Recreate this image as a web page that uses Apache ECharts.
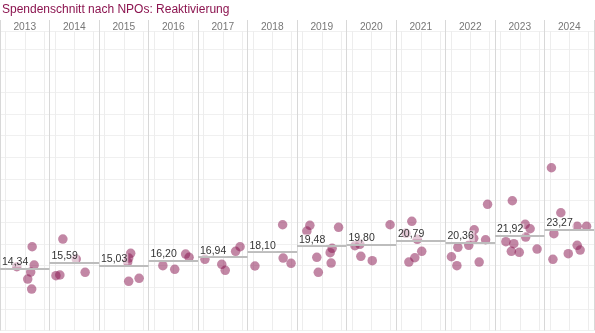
<!DOCTYPE html>
<html>
<head>
<meta charset="utf-8">
<style>
  html, body { margin: 0; padding: 0; background: #fff; }
  #chart { width: 595px; height: 333px; }
</style>
<script src="https://cdn.jsdelivr.net/npm/echarts@6/dist/echarts.min.js"></script>
</head>
<body>
<div id="chart"></div>
<script>
// Years shown as columns
const years = ['2013','2014','2015','2016','2017','2018','2019','2020','2021','2022','2023','2024'];

// Average donation per year (reference line in each column)
const averages = [14.34, 15.59, 15.03, 16.20, 16.94, 18.10, 19.48, 19.80, 20.79, 20.36, 21.92, 23.27];

// Average donation per NPO, one list per year
const npoValues = [
  [19.35, 15.13, 14.73, 13.51, 11.89, 9.58],
  [21.13, 16.51, 12.66, 12.82, 13.44],
  [17.83, 16.74, 15.82, 11.36, 12.06],
  [17.67, 16.91, 14.97, 14.13],
  [16.44, 15.29, 13.90, 18.29, 19.35],
  [24.43, 16.74, 15.52, 14.90],
  [24.30, 22.98, 23.83, 18.98, 17.97, 16.91, 15.59, 13.44],
  [19.58, 19.91, 17.14, 16.12, 24.43],
  [25.22, 22.45, 21.06, 18.29, 16.81, 15.82],
  [29.15, 23.28, 21.29, 20.97, 19.68, 19.21, 17.04, 14.97, 15.82],
  [29.98, 24.53, 23.51, 21.59, 20.51, 20.05, 18.29, 18.06, 18.82],
  [37.60, 27.21, 24.06, 24.06, 22.36, 19.68, 18.59, 17.74, 16.44]
];

// Horizontal jitter slot of each NPO inside its year column (0..1)
const npoSlots = [
  [0.65, 0.69, 0.34, 0.62, 0.56, 0.64],
  [0.27, 0.54, 0.13, 0.21, 0.72],
  [0.64, 0.60, 0.58, 0.60, 0.81],
  [0.75, 0.82, 0.29, 0.53],
  [0.14, 0.48, 0.55, 0.76, 0.85],
  [0.71, 0.72, 0.88, 0.15],
  [0.26, 0.20, 0.84, 0.71, 0.67, 0.40, 0.69, 0.43],
  [0.17, 0.27, 0.29, 0.52, 0.88],
  [0.32, 0.20, 0.43, 0.52, 0.38, 0.26],
  [0.85, 0.58, 0.57, 0.81, 0.47, 0.25, 0.12, 0.23, 0.68],
  [0.35, 0.61, 0.71, 0.62, 0.22, 0.38, 0.33, 0.49, 0.85],
  [0.14, 0.33, 0.66, 0.85, 0.19, 0.66, 0.72, 0.48, 0.17]
];

// Sub-axis guide positions inside each column
const slotGuides = [0.11, 0.5, 0.89];

const FONT = '"Liberation Sans", Arial, Helvetica, sans-serif';
const fmtDe = v => v.toFixed(2).replace('.', ',');

const points = [];
npoValues.forEach((vals, i) => {
  vals.forEach((v, j) => points.push([i + npoSlots[i][j], v]));
});

const guideLines = [];
years.forEach((y, i) => slotGuides.forEach(s => guideLines.push({ xAxis: i + s })));

const avgLines = averages.map((a, i) => [
  { coord: [i, a], value: a },
  { coord: [i + 1, a], value: a }
]);

const chart = echarts.init(document.getElementById('chart'), null, { renderer: 'canvas' });
chart.setOption({
  animation: false,
  backgroundColor: '#ffffff',
  textStyle: { fontFamily: FONT },
  title: {
    text: 'Spendenschnitt nach NPOs: Reaktivierung',
    left: 2, top: 4, padding: 0,
    textStyle: { fontSize: 12, fontWeight: 'normal', color: '#8c1550', fontFamily: FONT }
  },
  grid: [
    { left: 0, right: 1, top: 31, bottom: 2.5 },
    { left: 0, right: 1, top: 20, height: 12 }
  ],
  xAxis: [
    {
      type: 'value', gridIndex: 0, min: 0, max: 12, interval: 1,
      axisLine: { show: false }, axisTick: { show: false }, axisLabel: { show: false },
      splitLine: { show: true, lineStyle: { color: '#d8d8d8', width: 1 } }
    },
    {
      type: 'category', gridIndex: 1, data: years, boundaryGap: true,
      axisLine: { show: false }, axisTick: { show: false },
      axisLabel: { inside: true, margin: 0, color: '#777', fontSize: 10.2, fontFamily: FONT, interval: 0 },
      splitLine: { show: true, interval: 0, lineStyle: { color: '#d8d8d8', width: 1 } }
    }
  ],
  yAxis: [
    {
      type: 'value', gridIndex: 0, min: 0, max: 69.2, interval: 5,
      axisLine: { show: false }, axisTick: { show: false }, axisLabel: { show: false },
      splitLine: { show: true, lineStyle: { color: '#f0f0f0', width: 1 } }
    },
    { type: 'value', gridIndex: 1, show: false }
  ],
  series: [
    {
      type: 'scatter', xAxisIndex: 0, yAxisIndex: 0, data: [], silent: true,
      markLine: {
        silent: true, symbol: 'none', z: 1, animation: false,
        label: { show: false },
        lineStyle: { color: '#ededed', width: 1, type: 'solid' },
        data: guideLines
      }
    },
    {
      type: 'scatter', xAxisIndex: 0, yAxisIndex: 0, z: 3,
      symbolSize: 9.5,
      itemStyle: { color: 'rgba(135, 20, 78, 0.64)' },
      data: points
    },
    {
      type: 'scatter', xAxisIndex: 0, yAxisIndex: 0, data: [], silent: true,
      markLine: {
        silent: true, symbol: 'none', z: 6, animation: false,
        lineStyle: { color: '#bdbdbd', width: 2, type: 'solid' },
        label: {
          show: true, position: 'insideStartTop', distance: [1, 1],
          color: '#333', fontSize: 10.5, fontFamily: FONT,
          backgroundColor: 'rgba(255,255,255,0.55)', padding: [0, 1, 0, 1],
          formatter: p => fmtDe(averages[p.dataIndex])
        },
        data: avgLines
      }
    }
  ]
});
</script>
</body>
</html>
